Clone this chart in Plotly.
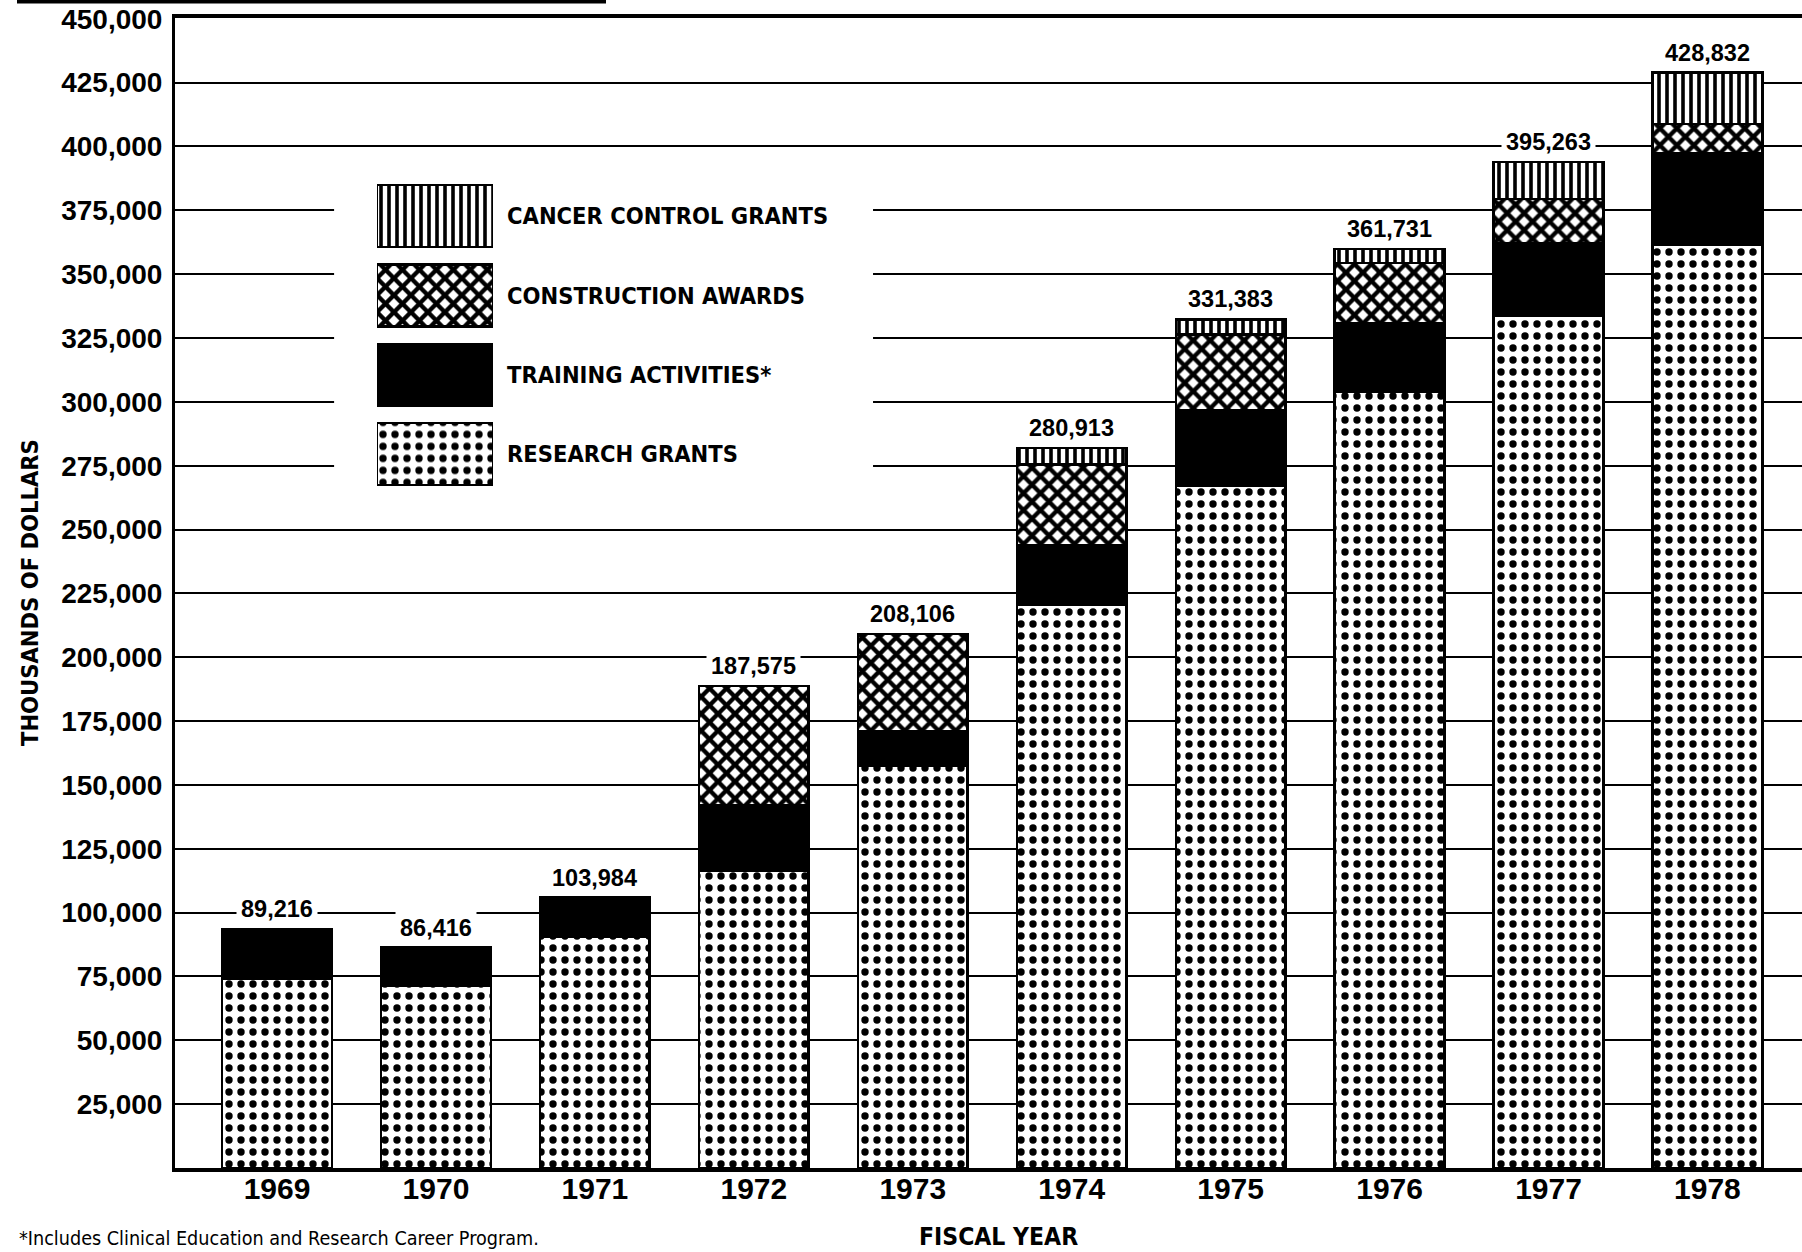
import plotly.graph_objects as go

# ---------------- data (thousands of dollars) ----------------
years = ["1969", "1970", "1971", "1972", "1973", "1974", "1975", "1976", "1977", "1978"]
total_labels = ["89,216", "86,416", "103,984", "187,575", "208,106",
                "280,913", "331,383", "361,731", "395,263", "428,832"]
research_grants = [74300, 71500, 90600, 116400, 157400, 220500, 267200, 304100, 333700, 361700]
training_activities = [19300, 14800, 15300, 25600, 13700, 23300, 29600, 26800, 28400, 35700]
construction_awards = [None, None, None, 46700, 37900, 31700, 29500, 23400, 17300, 11400]
cancer_control_grants = [None, None, None, None, None, 6500, 6000, 5600, 14500, 20100]
y_tick_values = [25000 * k for k in range(1, 19)]
y_tick_text = [f"{v:,}" for v in y_tick_values]
legend_labels = ["RESEARCH GRANTS", "TRAINING ACTIVITIES*", "CONSTRUCTION AWARDS", "CANCER CONTROL GRANTS"]

# ---------------- layout geometry ----------------
W, H = 1802, 1252
L, R, T, B = 175, 0, 18, 84
PW, PH = W - L - R, H - T - B


def px_x(px):
    return (px - L) / PW


def px_y(py):
    return (H - B - py) / PH


BOLD = "Liberation Sans, Arial, sans-serif"
NARROW = "DejaVu Sans Condensed, Liberation Sans Narrow, Arial Narrow, sans-serif"

styles = {
    "RESEARCH GRANTS": dict(color="white", pattern=dict(shape=".", size=12, solidity=0.3,
                                                         fgcolor="black", bgcolor="white", fgopacity=1)),
    "TRAINING ACTIVITIES*": dict(color="black"),
    "CONSTRUCTION AWARDS": dict(color="white", pattern=dict(shape="x", size=12, solidity=0.6,
                                                             fgcolor="black", bgcolor="white", fgopacity=1)),
    "CANCER CONTROL GRANTS": dict(color="white", pattern=dict(shape="|", size=8, solidity=0.45,
                                                               fgcolor="black", bgcolor="white", fgopacity=1)),
}
series = [
    ("RESEARCH GRANTS", research_grants),
    ("TRAINING ACTIVITIES*", training_activities),
    ("CONSTRUCTION AWARDS", construction_awards),
    ("CANCER CONTROL GRANTS", cancer_control_grants),
]

fig = go.Figure()
for name, vals in series:
    fig.add_trace(go.Bar(
        x=years, y=vals, name=name, width=0.69,
        marker=dict(line=dict(color="black", width=2.5), **styles[name]),
        showlegend=False, hoverinfo="skip",
    ))

# legend swatches drawn as bars in an inset subplot
for name in legend_labels:
    fig.add_trace(go.Bar(
        x=[1], y=[name], orientation="h", width=0.78, xaxis="x2", yaxis="y2",
        marker=dict(line=dict(color="black", width=2.5), **styles[name]),
        showlegend=False, hoverinfo="skip",
    ))

totals = [sum(v for v in col if v is not None)
          for col in zip(research_grants, training_activities, construction_awards, cancer_control_grants)]

annotations = []
for i, (tot, lab) in enumerate(zip(totals, total_labels)):
    annotations.append(dict(
        x=i, y=tot, xref="x", yref="y", text=lab, showarrow=False,
        yanchor="bottom", yshift=2, bgcolor="white", borderpad=4,
        font=dict(family=BOLD, size=23.5, color="black", weight="bold"),
    ))

annotations += [
    dict(x=px_x(30), y=px_y(593), xref="paper", yref="paper", text="THOUSANDS OF DOLLARS",
         textangle=-90, showarrow=False, xanchor="center", yanchor="middle",
         font=dict(family=NARROW, size=23.5, color="black", weight="bold")),
    dict(x=px_x(998), y=px_y(1236), xref="paper", yref="paper", text="FISCAL YEAR",
         showarrow=False, xanchor="center", yanchor="middle",
         font=dict(family=NARROW, size=24.5, color="black", weight="bold")),
    dict(x=px_x(17), y=px_y(1238), xref="paper", yref="paper",
         text="*Includes Clinical Education and Research Career Program.",
         showarrow=False, xanchor="left", yanchor="middle",
         font=dict(family=NARROW, size=19.6, color="black")),
]

shapes = [
    # blank area behind the legend (gridlines interrupted)
    dict(type="rect", xref="x", yref="y", x0=0.359, x1=3.75, y0=262000, y1=390000,
         fillcolor="white", line=dict(width=0), layer="between"),
    # header rule at the very top-left
    dict(type="line", xref="paper", yref="paper", x0=px_x(17), x1=px_x(606),
         y0=px_y(1.5), y1=px_y(1.5), line=dict(color="black", width=4)),
]

fig.update_layout(
    width=W, height=H,
    margin=dict(l=L, r=R, t=T, b=B, pad=0),
    paper_bgcolor="white", plot_bgcolor="white",
    barmode="stack", showlegend=False,
    annotations=annotations, shapes=shapes,
    xaxis=dict(
        type="category", range=[-0.642, 9.595], showgrid=False, zeroline=False,
        showline=True, linecolor="black", linewidth=3.5, mirror=True,
        ticks="", ticklabelstandoff=-9,
        tickfont=dict(family=BOLD, size=30, color="black", weight="bold"),
        domain=[0, 1],
    ),
    yaxis=dict(
        range=[0, 450300], tickvals=y_tick_values, ticktext=y_tick_text,
        showgrid=True, gridcolor="black", gridwidth=2, zeroline=False,
        showline=True, linecolor="black", linewidth=3,
        ticks="", ticklabelstandoff=4,
        tickfont=dict(family=BOLD, size=28, color="black", weight="bold"),
        domain=[0, 1],
    ),
    xaxis2=dict(domain=[px_x(377), px_x(493)], range=[0, 1], visible=False,
                anchor="y2", fixedrange=True),
    yaxis2=dict(domain=[px_y(493.7), px_y(176.4)], anchor="x2", side="right",
                type="category", categoryorder="array", categoryarray=legend_labels,
                showgrid=False, zeroline=False, showline=False, ticks="",
                ticklabelstandoff=13,
                tickfont=dict(family=NARROW, size=23.5, color="black", weight="bold")),
    bargap=0.31,
)

fig.write_html(
    "out.html",
    config={"displayModeBar": False},
    post_script="document.body.style.margin='0';document.body.style.overflow='hidden';",
)
